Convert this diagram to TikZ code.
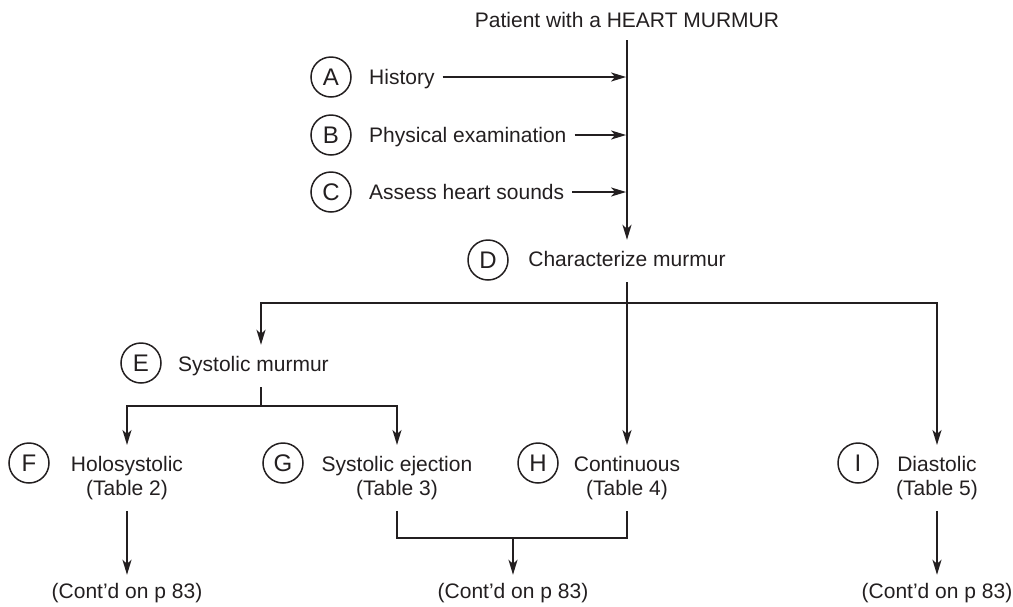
\documentclass[tikz,border=0pt]{standalone}
\usepackage{fontspec}
\setmainfont{Liberation Sans}
\usetikzlibrary{arrows.meta}
\definecolor{ink}{RGB}{35,31,32}
\begin{document}
\begin{tikzpicture}[x=1pt,y=-1pt,
  every node/.style={font=\fontsize{21}{24}\selectfont, text=ink},
  letter/.style={circle, draw=ink, line width=1.5pt, minimum size=40pt,
    inner sep=0pt, font=\fontsize{24}{24}\selectfont, text height=17pt, text depth=0pt},
  lbl/.style={inner xsep=8pt, inner ysep=11pt, text height=15pt, text depth=5pt},
  twoline/.style={align=center, anchor=north, inner xsep=8pt, inner ysep=11pt},
  link/.style={draw=ink, line width=1.8pt},
  arr/.style={link, -{Stealth[length=15pt,width=9pt,inset=4pt]}}]
\useasboundingbox (0,0) rectangle (1013,606);

% start and the three inputs
\node[lbl, anchor=base, inner ysep=8pt] (top) at (627,27) {Patient with a HEART MURMUR};
\node[letter] (A) at (331,77) {A};
\node[lbl, anchor=base west] (hist) at (361,84) {History};
\node[letter] (B) at (331,135) {B};
\node[lbl, anchor=base west] (phys) at (361,142) {Physical examination};
\node[letter] (C) at (331,192) {C};
\node[lbl, anchor=base west] (sounds) at (361,199) {Assess heart sounds};

% characterization
\node[letter] (D) at (488,260) {D};
\node[lbl, anchor=base] (char) at (627,266) {Characterize murmur};
\node[letter] (E) at (141,363) {E};
\node[lbl, anchor=base west] (sys) at (170,371) {Systolic murmur};

% murmur types
\node[letter] (F) at (29,463) {F};
\node[twoline] (holo) at (127,445) {Holosystolic\\(Table 2)};
\node[letter] (G) at (283,463) {G};
\node[twoline] (eject) at (397,445) {Systolic ejection\\(Table 3)};
\node[letter] (H) at (538,463) {H};
\node[twoline] (cont) at (627,445) {Continuous\\(Table 4)};
\node[letter] (I) at (858,463) {I};
\node[twoline] (dias) at (937,445) {Diastolic\\(Table 5)};

% continuations
\node[lbl, anchor=base, inner ysep=8pt] (contF) at (127,598) {(Cont’d on p 83)};
\node[lbl, anchor=base, inner ysep=8pt] (contM) at (513,598) {(Cont’d on p 83)};
\node[lbl, anchor=base, inner ysep=8pt] (contI) at (937,598) {(Cont’d on p 83)};

% connectors
\draw[arr] (top.south) -- (char.north);
\draw[arr, shorten >=0.9pt] (hist.east |- A) -- (A -| top.south);
\draw[arr, shorten >=0.9pt] (phys.east |- B) -- (B -| top.south);
\draw[arr, shorten >=0.9pt] (sounds.east |- C) -- (C -| top.south);

\coordinate (j1) at (627,303);
\coordinate (colE) at (261,0);
\draw[arr] (char.south) -- (cont.north);
\draw[arr] (j1) -| (sys.north -| colE);
\draw[arr] (j1) -| (dias.north);

\coordinate (j2) at (261,406);
\draw[link] (sys.south -| colE) -- (j2);
\draw[arr] (j2) -| (holo.north);
\draw[arr] (j2) -| (eject.north);

\coordinate (j3) at (513,538);
\draw[arr] (holo.south) -- (contF.north);
\draw[link] (eject.south) |- (j3) -| (cont.south);
\draw[arr] (j3) -- (contM.north);
\draw[arr] (dias.south) -- (contI.north);
\end{tikzpicture}
\end{document}
